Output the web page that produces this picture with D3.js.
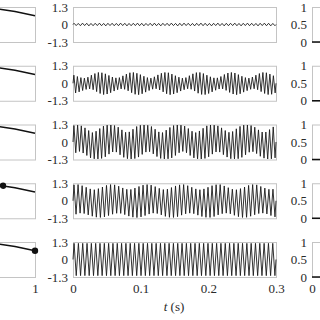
<!doctype html>
<html>
<head>
<meta charset="utf-8"/>
<title>Signals</title>
<script src="https://d3js.org/d3.v7.min.js"></script>
<style>
body { margin: 0; background: #fff; }
</style>
</head>
<body>
<script>
// tempo total do registro (s) e numero de ciclos de cada linha
var tempoTotal = 0.3;
var ciclos = [48, 58, 55, 50, 47];

// picos e vales (linha 1 a 5)
var picos1 = [
 0.09,0.08,0.1,0.09,0.08,0.09,0.1,0.08,0.09,0.09,
 0.08,0.1,0.09,0.08,0.09,0.1,0.09,0.08,0.09,0.1,
 0.08,0.09,0.09,0.1,0.08,0.09,0.1,0.09,0.08,0.09,
 0.1,0.09,0.08,0.09,0.1,0.08,0.09,0.09,0.1,0.08,
 0.09,0.1,0.09,0.08,0.09,0.1,0.09,0.08];
var vales1 = [
 -0.08,-0.09,-0.08,-0.1,-0.09,-0.08,-0.09,-0.1,-0.08,-0.09,
 -0.09,-0.08,-0.1,-0.09,-0.08,-0.09,-0.1,-0.08,-0.09,-0.09,
 -0.1,-0.08,-0.09,-0.08,-0.1,-0.09,-0.08,-0.09,-0.1,-0.08,
 -0.09,-0.09,-0.1,-0.08,-0.09,-0.1,-0.09,-0.08,-0.09,-0.1,
 -0.08,-0.09,-0.09,-0.1,-0.08,-0.09,-0.1,-0.09];

var picos2 = [
 0.6,0.5,0.42,0.38,0.45,0.6,0.72,0.8,0.78,0.7,
 0.58,0.46,0.4,0.42,0.55,0.68,0.78,0.8,0.74,0.64,
 0.52,0.42,0.38,0.48,0.62,0.74,0.8,0.78,0.68,0.56,
 0.45,0.38,0.42,0.56,0.7,0.79,0.8,0.72,0.6,0.48,
 0.4,0.4,0.5,0.65,0.76,0.8,0.76,0.64,0.52,0.42,
 0.38,0.46,0.6,0.72,0.8,0.78,0.68,0.56];
var vales2 = [
 -0.72,-0.64,-0.54,-0.46,-0.42,-0.48,-0.62,-0.76,-0.84,-0.8,
 -0.7,-0.58,-0.48,-0.42,-0.45,-0.56,-0.7,-0.82,-0.85,-0.78,
 -0.66,-0.54,-0.44,-0.41,-0.5,-0.64,-0.78,-0.85,-0.8,-0.7,
 -0.58,-0.48,-0.41,-0.45,-0.58,-0.74,-0.83,-0.84,-0.76,-0.64,
 -0.52,-0.43,-0.42,-0.53,-0.68,-0.8,-0.85,-0.78,-0.66,-0.55,
 -0.45,-0.41,-0.48,-0.62,-0.76,-0.84,-0.82,-0.72];

var picos3 = [
 1.22,1.25,1.2,1.05,0.85,0.7,0.8,1.0,1.18,1.25,1.26,
 1.22,1.1,0.9,0.72,0.75,0.95,1.15,1.24,1.26,1.24,1.15,
 0.95,0.75,0.7,0.88,1.08,1.22,1.26,1.25,1.18,1.0,0.8,
 0.7,0.82,1.02,1.2,1.26,1.25,1.2,1.05,0.85,0.72,0.78,
 0.98,1.16,1.25,1.26,1.22,1.1,0.9,0.74,0.74,0.92,1.12];
var vales3 = [
 -0.8,-0.7,-0.82,-1.0,-1.18,-1.25,-1.26,-1.22,-1.1,-0.9,-0.74,
 -0.75,-0.95,-1.14,-1.24,-1.26,-1.23,-1.12,-0.92,-0.75,-0.72,-0.88,
 -1.08,-1.22,-1.26,-1.25,-1.18,-1.0,-0.8,-0.7,-0.8,-1.0,-1.18,
 -1.25,-1.26,-1.22,-1.1,-0.9,-0.74,-0.75,-0.94,-1.12,-1.24,-1.26,
 -1.24,-1.14,-0.95,-0.76,-0.72,-0.86,-1.06,-1.2,-1.26,-1.25,-1.18];

var picos4 = [
 1.18,1.2,1.12,1.0,0.88,0.82,0.9,1.02,1.14,1.2,
 1.18,1.08,0.95,0.85,0.84,0.94,1.06,1.16,1.2,1.16,
 1.05,0.92,0.83,0.86,0.98,1.1,1.18,1.2,1.12,1.0,
 0.88,0.82,0.88,1.0,1.12,1.19,1.2,1.1,0.97,0.86,
 0.82,0.9,1.02,1.14,1.2,1.18,1.06,0.94,0.85,0.86];
var vales4 = [
 -1.0,-0.92,-0.95,-1.05,-1.15,-1.22,-1.24,-1.2,-1.1,-1.0,
 -0.93,-0.94,-1.03,-1.14,-1.22,-1.25,-1.2,-1.1,-0.99,-0.92,
 -0.95,-1.05,-1.16,-1.23,-1.24,-1.18,-1.07,-0.97,-0.92,-0.96,
 -1.07,-1.17,-1.23,-1.24,-1.17,-1.05,-0.96,-0.92,-0.97,-1.08,
 -1.18,-1.24,-1.23,-1.15,-1.04,-0.95,-0.92,-0.98,-1.1,-1.2];

var picos5 = [
 1.2,1.2,1.2,1.2,1.2,1.2,1.2,1.2,1.2,1.2,
 1.2,1.2,1.2,1.2,1.2,1.2,1.2,1.2,1.2,1.2,
 1.2,1.2,1.2,1.2,1.2,1.2,1.2,1.2,1.2,1.2,
 1.2,1.2,1.2,1.2,1.2,1.2,1.2,1.2,1.2,1.2,
 1.2,1.2,1.2,1.2,1.2,1.2,1.2];
var vales5 = [
 -1.2,-1.2,-1.2,-1.2,-1.2,-1.2,-1.2,-1.2,-1.2,-1.2,
 -1.2,-1.2,-1.2,-1.2,-1.2,-1.2,-1.2,-1.2,-1.2,-1.2,
 -1.2,-1.2,-1.2,-1.2,-1.2,-1.2,-1.2,-1.2,-1.2,-1.2,
 -1.2,-1.2,-1.2,-1.2,-1.2,-1.2,-1.2,-1.2,-1.2,-1.2,
 -1.2,-1.2,-1.2,-1.2,-1.2,-1.2,-1.2];

var picos = [picos1, picos2, picos3, picos4, picos5];
var vales = [vales1, vales2, vales3, vales4, vales5];

// coluna da esquerda: curva e posicao do ponto em cada linha
var curvaX = [0.4, 0.6, 0.8, 1.0];
var curvaY = [1.0, 0.96, 0.87, 0.75];
var pontoX = [0.1, 0.3, 0.5, 0.68, 1.0];
var pontoY = [1.0, 1.0, 0.98, 0.93, 0.75];

// coluna da direita: linha no zero
var dirX = [0, 1];
var dirY = [0, 0];

var ticksMeio = [-1.3, 0, 1.3];
var ticksTempo = [0, 0.1, 0.2, 0.3];
var ticksDir = [0, 0.5, 1];

var fonte = "'Liberation Serif', 'Times New Roman', serif";
var corTexto = "#2a2a2a";
var corCaixa = "#c4c4c4";

var svg = d3.select("body").append("svg")
  .attr("width", 320)
  .attr("height", 320);

var topo0 = 7, passo = 58.75, alt = 35;

var xMeio = d3.scaleLinear().domain([0, tempoTotal]).range([73, 276]);
var xEsq = d3.scaleLinear().domain([0, 1]).range([-65, 35]);
var xDir = d3.scaleLinear().domain([0, 1]).range([312, 412]);

function fmt(d) { return String(d); }

function estilo(g) {
  g.select(".domain").remove();
  g.selectAll("text")
    .style("font-family", fonte)
    .style("font-size", "13px")
    .attr("fill", corTexto);
}

for (var r = 0; r < 5; r++) {
  var topo = topo0 + r * passo;
  var y = d3.scaleLinear().domain([-1.3, 1.3]).range([topo + alt, topo]);
  var y01 = d3.scaleLinear().domain([0, 1]).range([topo + alt, topo]);

  // caixas
  [[xEsq(0), xEsq(1)], [xMeio(0), xMeio(tempoTotal)], [xDir(0), xDir(1)]].forEach(function (c) {
    svg.append("rect")
      .attr("x", c[0] + 0.5).attr("y", topo + 0.5)
      .attr("width", c[1] - c[0]).attr("height", alt)
      .attr("fill", "none").attr("stroke", corCaixa).attr("stroke-width", 1);
  });

  // sinal: pontos nos picos e vales
  var n = ciclos[r];
  var pts = [[0, 0]];
  for (var i = 0; i < n; i++) {
    pts.push([(i + 0.25) * tempoTotal / n, picos[r][i]]);
    pts.push([(i + 0.75) * tempoTotal / n, vales[r][i]]);
  }
  pts.push([tempoTotal, 0]);
  svg.append("path")
    .attr("d", d3.line().x(function (d) { return xMeio(d[0]); }).y(function (d) { return y(d[1]); })(pts))
    .attr("fill", "none").attr("stroke", "#1c1c1c").attr("stroke-width", 0.9);

  svg.append("g").attr("transform", "translate(" + xMeio(0) + ",0)")
    .call(d3.axisLeft(y).tickValues(ticksMeio).tickSize(0).tickPadding(5).tickFormat(fmt))
    .call(estilo);

  // coluna da esquerda
  var curva = curvaX.map(function (v, k) { return [v, curvaY[k]]; });
  svg.append("path")
    .attr("d", d3.line().x(function (d) { return xEsq(d[0]); }).y(function (d) { return y01(d[1]); })(curva))
    .attr("fill", "none").attr("stroke", "#111").attr("stroke-width", 1.4);
  svg.append("circle")
    .attr("cx", xEsq(pontoX[r])).attr("cy", y01(pontoY[r])).attr("r", 3.2)
    .attr("fill", "#111");

  // coluna da direita
  var linhaDir = dirX.map(function (v, k) { return [v, dirY[k]]; });
  svg.append("path")
    .attr("d", d3.line().x(function (d) { return xDir(d[0]); }).y(function (d) { return y01(d[1]); })(linhaDir))
    .attr("fill", "none").attr("stroke", "#111").attr("stroke-width", 1.6);
  svg.append("g").attr("transform", "translate(" + xDir(0) + ",0)")
    .call(d3.axisLeft(y01).tickValues(ticksDir).tickSize(0).tickPadding(5).tickFormat(fmt))
    .call(estilo);
}

var base = topo0 + 4 * passo + alt;
svg.append("g").attr("transform", "translate(0," + base + ")")
  .call(d3.axisBottom(xMeio).tickValues(ticksTempo).tickSize(0).tickPadding(7).tickFormat(fmt))
  .call(estilo);
svg.append("g").attr("transform", "translate(0," + base + ")")
  .call(d3.axisBottom(xEsq).tickValues([1]).tickSize(0).tickPadding(7).tickFormat(fmt))
  .call(estilo);
svg.append("g").attr("transform", "translate(0," + base + ")")
  .call(d3.axisBottom(xDir).tickValues([0]).tickSize(0).tickPadding(7).tickFormat(fmt))
  .call(estilo);

var rotulo = svg.append("text")
  .attr("x", 174).attr("y", 311)
  .attr("text-anchor", "middle")
  .style("font-family", fonte).style("font-size", "13px")
  .attr("fill", corTexto);
rotulo.append("tspan").style("font-style", "italic").text("t");
rotulo.append("tspan").text(" (s)");
</script>
</body>
</html>
